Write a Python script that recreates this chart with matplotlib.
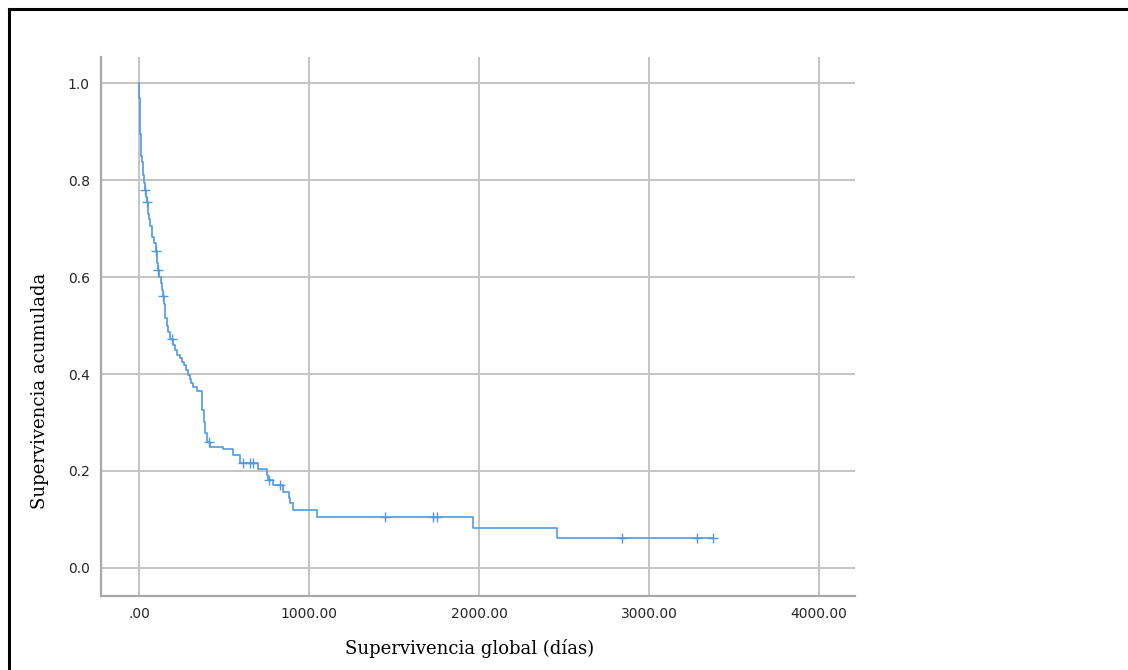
"""Kaplan-Meier curve: overall survival (days) vs cumulative survival."""

import numpy as np
import matplotlib

matplotlib.use("Agg")

import matplotlib.pyplot as plt
from matplotlib.lines import Line2D

# step table of the survival function (time in days, survival after the step)
event_days = [
    0, 1, 2, 3, 4, 5, 6, 8, 10, 12, 14, 18, 22, 26, 30, 34, 40, 44, 51, 58,
    65, 74, 90, 97, 103, 108, 111, 120, 127, 133, 140, 146, 150, 155, 162,
    168, 180, 200, 212, 225, 241, 255, 265, 278, 290, 300, 308, 319, 339,
    369, 372, 380, 388, 398, 418, 496, 553, 594, 702, 751, 760, 790, 849,
    880, 888, 905, 1045, 1967, 2457,
]
survival = [
    1.0, 0.985, 0.97, 0.955, 0.94, 0.925, 0.91, 0.895, 0.88, 0.865, 0.85,
    0.838, 0.826, 0.81, 0.795, 0.78, 0.765, 0.755, 0.731, 0.72, 0.705, 0.683,
    0.67, 0.654, 0.64, 0.628, 0.614, 0.60, 0.587, 0.574, 0.56, 0.545, 0.53,
    0.515, 0.50, 0.487, 0.472, 0.46, 0.45, 0.44, 0.433, 0.425, 0.418, 0.408,
    0.398, 0.39, 0.382, 0.374, 0.364, 0.345, 0.326, 0.30, 0.278, 0.26, 0.25,
    0.245, 0.233, 0.217, 0.204, 0.192, 0.181, 0.171, 0.157, 0.145, 0.133,
    0.12, 0.104, 0.083, 0.0625,
]
censored_days = [35, 45, 98, 112, 141, 194, 412, 614, 653, 673, 763, 829,
                 1447, 1730, 1750, 2841, 3282, 3378]

x_ticks = [0, 1000, 2000, 3000, 4000]
x_tick_labels = [".00", "1000.00", "2000.00", "3000.00", "4000.00"]
y_ticks = [0.0, 0.2, 0.4, 0.6, 0.8, 1.0]

LINE = "#4d9be6"
GRID = "#c4c4c4"
SPINE = "#a8a8a8"
TEXT = "#262626"

t = np.array(event_days + [censored_days[-1]], dtype=float)
s = np.array(survival + [survival[-1]], dtype=float)
ev = np.array(event_days, dtype=float)
cens_t = np.array(censored_days, dtype=float)
cens_s = np.array(survival)[np.searchsorted(ev, cens_t, side="right") - 1]

fig = plt.figure(figsize=(11.28, 6.70), dpi=100, facecolor="white")
ax = fig.add_axes([101 / 1128, 1 - 596 / 670, (855 - 101) / 1128, (596 - 57) / 670])

ax.step(t, s, where="post", color=LINE, lw=1.2, zorder=3)
ax.plot(cens_t, cens_s, ls="none", marker="+", ms=7, mew=1.0, color=LINE, zorder=4)

ax.set_xlim(-224, 4212)
ax.set_ylim(-0.058, 1.054)
ax.set_xticks(x_ticks)
ax.set_xticklabels(x_tick_labels)
ax.set_yticks(y_ticks)
ax.set_yticklabels([f"{v:.1f}" for v in y_ticks])
ax.grid(True, color=GRID, lw=1.4, zorder=0)
ax.set_axisbelow(True)
ax.tick_params(length=0, labelsize=10, labelcolor=TEXT)
ax.tick_params(axis="x", pad=8)
ax.tick_params(axis="y", pad=8)

for side in ("top", "right"):
    ax.spines[side].set_visible(False)
for side in ("left", "bottom"):
    ax.spines[side].set_color(SPINE)
    ax.spines[side].set_linewidth(1.6)

fig.text(470 / 1128, 1 - 648 / 670, "Supervivencia global (días)", ha="center",
         va="center", fontsize=13, family="DejaVu Serif", color="black")
fig.text(40 / 1128, 1 - 391 / 670, "Supervivencia acumulada", ha="center",
         va="center", rotation=90, fontsize=13, family="DejaVu Serif", color="black")

# page border along the top and left edges
fig.add_artist(Line2D([8.5 / 1128, 1.0], [1 - 9 / 670, 1 - 9 / 670],
                      transform=fig.transFigure, color="black", lw=2.2))
fig.add_artist(Line2D([8.5 / 1128, 8.5 / 1128], [0.0, 1 - 9 / 670],
                      transform=fig.transFigure, color="black", lw=2.2))

fig.savefig("out.png", dpi=100, facecolor="white")
